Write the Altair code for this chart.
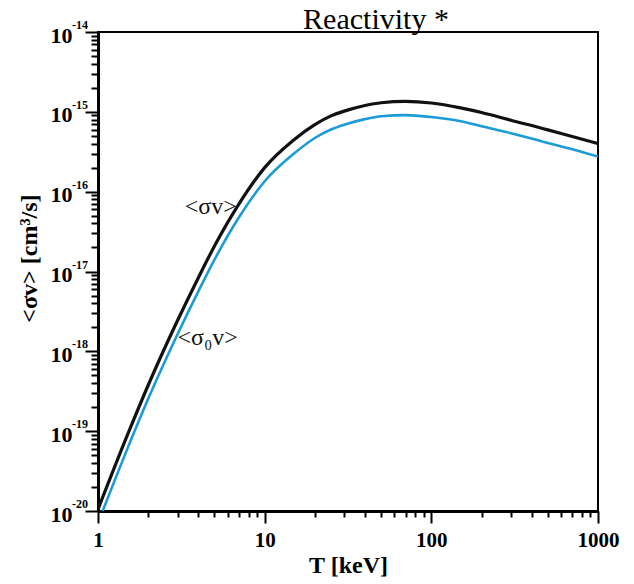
import altair as alt
import pandas as pd

# Temperature grid [keV]
T = [1, 1.5, 2, 3, 4, 5, 7, 10, 15, 20, 25, 30, 40, 50, 70, 100, 150, 200, 300, 500, 700, 1000]
# <sigma v> [cm^3/s] (black)
sv = [1.05e-20, 8.9e-20, 3.76e-19, 2.43e-18, 8.36e-18, 2.09e-17, 7.0e-17, 2.0e-16, 4.47e-16,
      6.9e-16, 8.9e-16, 1.02e-15, 1.2e-15, 1.3e-15, 1.35e-15, 1.29e-15, 1.12e-15, 9.8e-16,
      7.85e-16, 5.95e-16, 4.9e-16, 4.0e-16]
# <sigma_0 v> [cm^3/s] (blue)
s0v = [7.1e-21, 6.0e-20, 2.54e-19, 1.64e-18, 5.65e-18, 1.41e-17, 4.74e-17, 1.35e-16, 3.0e-16,
       4.7e-16, 6.0e-16, 6.9e-16, 8.1e-16, 8.8e-16, 9.1e-16, 8.6e-16, 7.6e-16, 6.6e-16,
       5.4e-16, 4.07e-16, 3.4e-16, 2.75e-16]

series_names = ["<σv>", "<σ₀v>"]
series_colors = ["#111111", "#1b9bd7"]

x_ticks = [m * 10 ** e for e in range(0, 3) for m in range(1, 10)] + [1000]
y_ticks = [m * 10.0 ** e for e in range(-20, -14) for m in range(1, 10)] + [1e-14]
exponents = [-20, -19, -18, -17, -16, -15, -14]

label_text = ["<σv>", "<σ₀v>"]
label_T = [6.8, 3.0]
label_val = [6.4e-17, 1.45e-18]

title_text = "Reactivity *"

rows = []
for name, vals in zip(series_names, [sv, s0v]):
    for t, v in zip(T, vals):
        rows.append({"T": t, "val": v, "series": name})
df = pd.DataFrame(rows)

exp_df = pd.DataFrame({"T": [1] * len(exponents),
                       "val": [10.0 ** e for e in exponents],
                       "exp": [str(e) for e in exponents]})
lab_df = pd.DataFrame({"T": label_T, "val": label_val, "text": label_text})

FONT = "Liberation Serif"
major_test = "abs(log(datum.value)/LN10 - round(log(datum.value)/LN10)) < 0.001"

x_scale = alt.Scale(type="log", domain=[1, 1000], nice=False)
y_scale = alt.Scale(type="log", domain=[1e-20, 1e-14], nice=False)

x_axis = alt.Axis(
    values=x_ticks, title="T [keV]",
    labelExpr=f"{major_test} ? format(datum.value, 'd') : ''",
    labelOverlap=False, labelFlush=False, grid=False,
    tickSize={"condition": {"test": major_test, "value": 12}, "value": 6},
    tickWidth=2, tickColor="black", domainColor="black", domainWidth=3,
    labelFont=FONT, labelFontSize=21, labelFontWeight="bold", labelColor="black",
    labelPadding=6,
    titleFont=FONT, titleFontSize=24, titleFontWeight="bold", titleColor="black",
    titlePadding=3,
)
y_axis = alt.Axis(
    values=y_ticks, title="<σv> [cm³/s]",
    labelExpr=f"{major_test} ? '10' : ''",
    labelOverlap=False, labelFlush=False, grid=False,
    tickSize={"condition": {"test": major_test, "value": 13}, "value": 7},
    tickWidth=2, tickColor="black", domainColor="black", domainWidth=3,
    labelFont=FONT, labelFontSize=22, labelFontWeight="bold", labelColor="black",
    labelPadding=13, labelOffset=3, labelBaseline="middle",
    titleFont=FONT, titleFontSize=24, titleFontWeight="bold", titleColor="black",
    titleX=-69, titleY=226, titleBaseline="middle", titleAlign="center",
)

lines = alt.Chart(df).mark_line(interpolate="monotone", clip=True).encode(
    x=alt.X("T:Q", scale=x_scale, axis=x_axis),
    y=alt.Y("val:Q", scale=y_scale, axis=y_axis),
    color=alt.Color("series:N", scale=alt.Scale(domain=series_names, range=series_colors), legend=None),
    strokeWidth=alt.StrokeWidth("series:N", scale=alt.Scale(domain=series_names, range=[3.2, 2.6]), legend=None),
    order=alt.Order("T:Q"),
)

exp_text = alt.Chart(exp_df).mark_text(
    font=FONT, fontSize=12, fontWeight="bold", color="black",
    align="left", baseline="alphabetic", dx=-26, dy=-3,
).encode(
    x=alt.X("T:Q", scale=x_scale),
    y=alt.Y("val:Q", scale=y_scale),
    text="exp:N",
)

lab_sv = alt.Chart(lab_df.iloc[[0]]).mark_text(
    font=FONT, fontSize=24, color="#111111", baseline="middle", align="right"
).encode(x=alt.X("T:Q", scale=x_scale), y=alt.Y("val:Q", scale=y_scale), text="text:N")
lab_s0v = alt.Chart(lab_df.iloc[[1]]).mark_text(
    font=FONT, fontSize=24, color="#111111", baseline="middle", align="left"
).encode(x=alt.X("T:Q", scale=x_scale), y=alt.Y("val:Q", scale=y_scale), text="text:N")

# chart title, drawn as text just above (and touching) the top frame
title_mark = alt.Chart(pd.DataFrame({"t": [title_text]})).mark_text(
    font=FONT, fontSize=30, fontWeight="normal", color="black",
    align="center", baseline="alphabetic",
).encode(x=alt.value(278), y=alt.value(-3), text="t:N")

chart = alt.layer(lines, exp_text, lab_sv, lab_s0v, title_mark).properties(
    width=500, height=479,
    background="white",
    autosize=alt.AutoSizeParams(type="none"),
    padding={"left": 98, "top": 32, "right": 36, "bottom": 73},
).configure_view(stroke="black", strokeWidth=2)

chart.save("out.html", embed_options={"renderer": "svg", "actions": False})
